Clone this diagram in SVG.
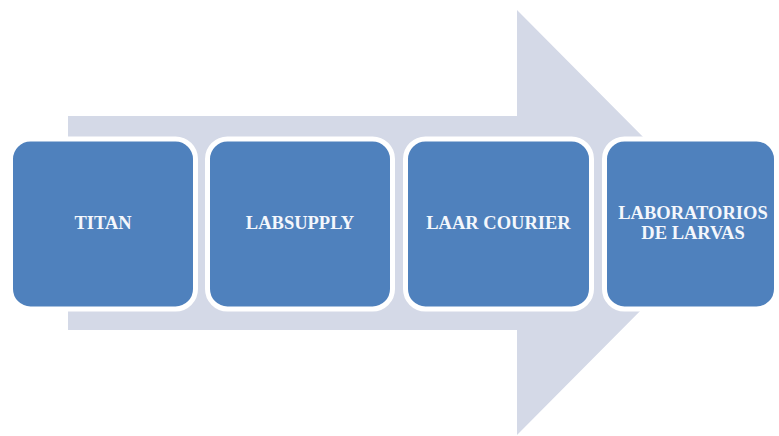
<svg xmlns="http://www.w3.org/2000/svg" width="779" height="436" viewBox="0 0 779 436">
  <style>
    .step rect { fill: #4F81BD; stroke: #FFFFFF; stroke-width: 5; }
    .step text { font-family: "Liberation Serif", "Times New Roman", serif; font-weight: bold; font-size: 18.5px; fill: #F4F7FC; text-anchor: middle; }
  </style>
  <rect width="779" height="436" fill="#FFFFFF"/>
  <!-- Background process arrow -->
  <g id="connectors">
    <path d="M68,116 L517,116 L517,10 L728,222.5 L517,435 L517,330 L68,330 Z" fill="#D4D9E7"/>
  </g>
  <g id="node-titan" class="step">
    <rect x="10.5" y="139" width="185" height="170" rx="20" ry="20"/>
    <text x="103" y="229">TITAN</text>
  </g>
  <g id="node-labsupply" class="step">
    <rect x="207.5" y="139" width="185" height="170" rx="20" ry="20"/>
    <text x="300" y="229">LABSUPPLY</text>
  </g>
  <g id="node-laar-courier" class="step">
    <rect x="405.5" y="139" width="186" height="170" rx="20" ry="20"/>
    <text x="498.5" y="229">LAAR COURIER</text>
  </g>
  <g id="node-laboratorios" class="step">
    <rect x="604.5" y="139" width="172" height="170" rx="20" ry="20"/>
    <text x="693" y="219">LABORATORIOS</text>
    <text x="693" y="239">DE LARVAS</text>
  </g>
</svg>
